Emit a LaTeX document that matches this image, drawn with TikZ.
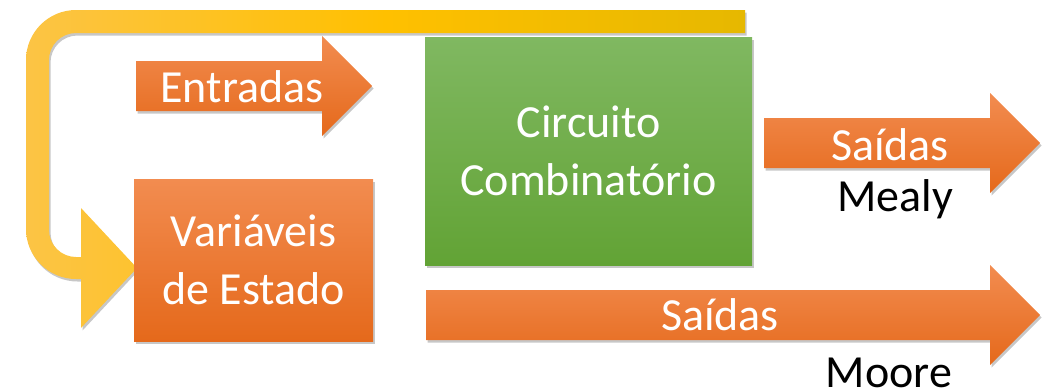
\documentclass[tikz,border=0pt]{standalone}
\usepackage{fontspec}
\setmainfont{Carlito}
\usetikzlibrary{shadows}
\definecolor{orT}{HTML}{F28C50}
\definecolor{orB}{HTML}{E5691B}
\definecolor{grT}{HTML}{80B861}
\definecolor{grB}{HTML}{62A335}
\definecolor{yeL}{HTML}{FCC445}
\definecolor{yeM}{HTML}{FFC000}
\definecolor{yeR}{HTML}{E6B800}
\begin{document}
\begin{tikzpicture}[x=1pt,y=-1pt,
  shd/.style={drop shadow={shadow xshift=1.5pt, shadow yshift=-2.5pt, opacity=0.22, fill=black}},
  orfill/.style={top color=orT, bottom color=orB, shd},
  bigtxt/.style={font=\fontsize{46}{58}\selectfont},
  lbl/.style={bigtxt, text=white, inner sep=0pt, align=center},
  blk/.style={bigtxt, text=black, inner sep=0pt},
  box/.style={shd, lbl, rectangle, draw=none}]
\path[use as bounding box] (0,0) rectangle (1051,388);
% feedback arrow
\path[left color=yeL, right color=yeR, middle color=yeM, shd]
  (745,10) -- (76,10) .. controls (48.4,10) and (26,32.4) .. (26,60)
  -- (26,229) .. controls (26,256.6) and (48.4,279) .. (76,279)
  -- (81,279) -- (81,328) -- (137,268) -- (81,208) -- (81,257) -- (76,257)
  .. controls (61.1,257) and (49,244.9) .. (49,230)
  -- (49,60) .. controls (49,45.1) and (61.1,33) .. (76,33)
  -- (745,33) -- cycle;
% Entradas arrow
\path[orfill] (136,61) -- (322,61) -- (322,36) -- (372,86) -- (322,136) -- (322,111) -- (136,111) -- cycle;
\node[lbl, anchor=base] (ent) at (242,102) {Entradas};
% state variables
\node[box, top color=orT, bottom color=orB, minimum width=239pt, minimum height=162pt] (var) at (253.5,260) {Variáveis\\de Estado};
% combinational circuit
\node[box, top color=grT, bottom color=grB, minimum width=327pt, minimum height=228pt] (cc) at (588.5,151) {Circuito\\Combinatório};
% Mealy outputs
\path[orfill] (764,118) -- (990,118) -- (990,93) -- (1040,143) -- (990,193) -- (990,168) -- (764,168) -- cycle;
\node[lbl, anchor=base] (smealy) at (890,160) {Saídas};
\node[blk, anchor=base] (mealy) at (895,211) {Mealy};
% Moore outputs
\path[orfill] (426,290) -- (990,290) -- (990,265) -- (1040,315) -- (990,365) -- (990,340) -- (426,340) -- cycle;
\node[lbl, anchor=base] (smoore) at (720,330) {Saídas};
\node[blk, anchor=base] (moore) at (889,387) {Moore};
\end{tikzpicture}
\end{document}
